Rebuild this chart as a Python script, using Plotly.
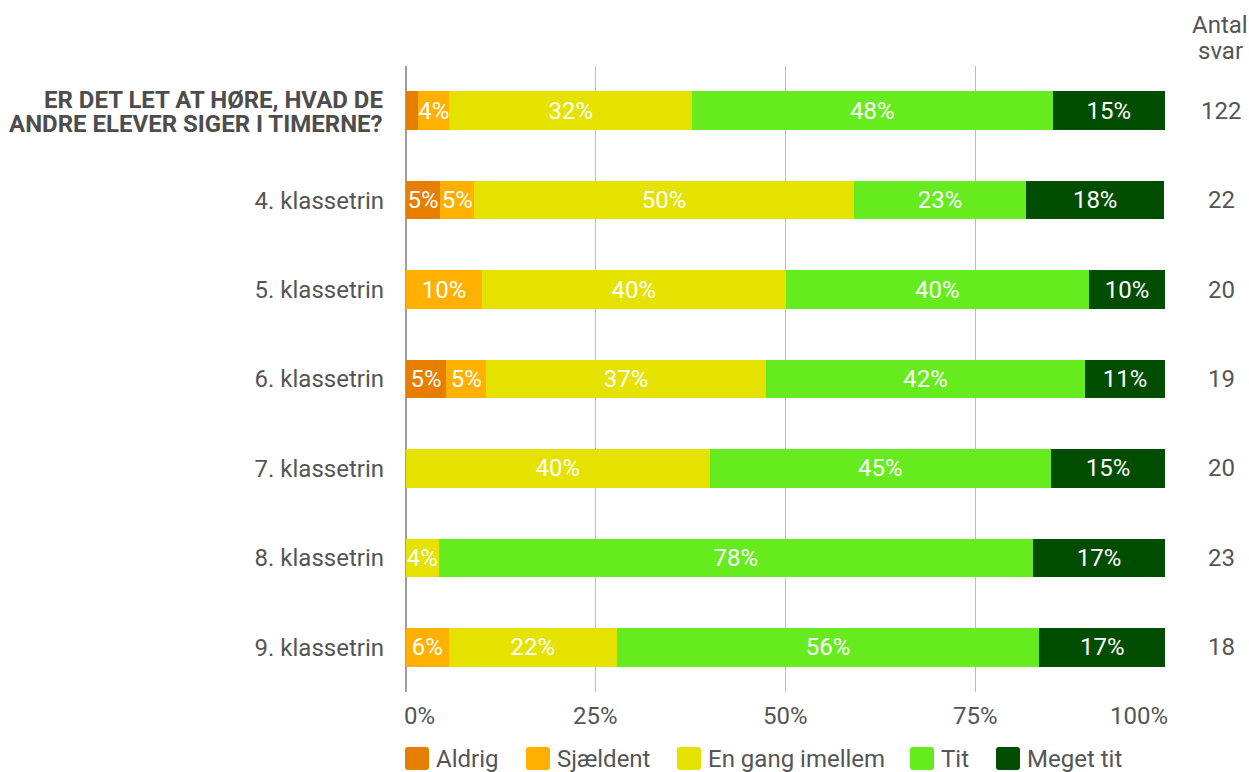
import plotly.graph_objects as go

categories = [
    "ER DET LET AT HØRE, HVAD DE ANDRE ELEVER SIGER I TIMERNE?",
    "4. klassetrin",
    "5. klassetrin",
    "6. klassetrin",
    "7. klassetrin",
    "8. klassetrin",
    "9. klassetrin",
]
header_lines = ["ER DET LET AT HØRE, HVAD DE", "ANDRE ELEVER SIGER I TIMERNE?"]
series_names = ["Aldrig", "Sjældent", "En gang imellem", "Tit", "Meget tit"]
aldrig = [1.6, 4.5, 0, 5.3, 0, 0, 0]
sjaeldent = [4.1, 4.5, 10.0, 5.3, 0, 0, 5.6]
en_gang = [32.0, 50.0, 40.0, 36.8, 40.0, 4.3, 22.2]
tit = [47.5, 22.7, 40.0, 42.1, 45.0, 78.3, 55.6]
meget_tit = [14.8, 18.2, 10.0, 10.5, 15.0, 17.4, 16.7]
antal_svar = [122, 22, 20, 19, 20, 23, 18]
tick_vals = [0, 25, 50, 75, 100]
tick_labels = ["0%", "25%", "50%", "75%", "100%"]

colors = ["#E67E00", "#FFB000", "#E6E200", "#66EB1E", "#004D00"]
series = [aldrig, sjaeldent, en_gang, tit, meget_tit]

FONT = "Roboto"
TXT = "#555555"
FS = 24

# layout geometry (pixels)
W, H = 1249, 772
ML, MT = 406, 66
PW, PH = 759, 626
MR = W - ML - PW
MB = H - MT - PH


def px_x(x):  # page x pixel -> paper coordinate
    return (x - ML) / PW


def px_y(y):  # page y pixel -> paper coordinate
    return ((MT + PH) - y) / PH


fig = go.Figure()
for name, vals, col in zip(series_names, series, colors):
    texts = [f"{int(v + 0.5)}%" if v >= 3 else "" for v in vals]
    fig.add_trace(go.Bar(
        y=categories, x=vals, name=name, orientation="h",
        marker=dict(color=col, line=dict(width=0)),
        text=texts, textposition="inside", insidetextanchor="middle",
        textangle=0, constraintext="none",
        textfont=dict(color="white", size=FS, family=FONT),
        hoverinfo="skip", showlegend=False,
    ))

annotations = []
shapes = []
# x tick labels
for i, (tv, tl) in enumerate(zip(tick_vals, tick_labels)):
    if i == 0:
        anchor, xs = "left", -4
    elif i == len(tick_vals) - 1:
        anchor, xs = "right", 5
    else:
        anchor, xs = "center", 0
    annotations.append(dict(
        x=tv, y=0, xref="x", yref="paper", text=tl, showarrow=False,
        xanchor=anchor, yanchor="middle", yshift=-24, xshift=xs,
        font=dict(size=FS, color=TXT, family=FONT),
    ))
# bold first category label in two tight lines
for line, ys in zip(header_lines, [11, -13]):
    annotations.append(dict(
        x=0, y=categories[0], xref="paper", yref="y", text=f"<b>{line}</b>",
        showarrow=False, xanchor="right", yanchor="middle", xshift=-21, yshift=ys,
        font=dict(size=FS, color="#4D4D4D", family=FONT),
    ))
# Antal svar column
col_x = px_x(1221)
for cat, n in zip(categories, antal_svar):
    annotations.append(dict(
        x=col_x, y=cat, xref="paper", yref="y", text=str(n), showarrow=False,
        xanchor="center", yanchor="middle",
        font=dict(size=FS, color=TXT, family=FONT),
    ))
for word, yc in zip(["Antal", "svar"], [25, 51]):
    annotations.append(dict(
        x=px_x(1220), y=px_y(yc), xref="paper", yref="paper", text=word,
        showarrow=False, xanchor="center", yanchor="middle",
        font=dict(size=FS, color=TXT, family=FONT),
    ))

# manual legend with rounded swatches
legend_left_px = [405, 526, 677, 910, 996]
legend_cy = px_y(758.5)
rr = "M -9,-11.5 L 9,-11.5 Q 12,-11.5 12,-8.5 L 12,8.5 Q 12,11.5 9,11.5 L -9,11.5 Q -12,11.5 -12,8.5 L -12,-8.5 Q -12,-11.5 -9,-11.5 Z"
for name, col, lx in zip(series_names, colors, legend_left_px):
    shapes.append(dict(
        type="path", xref="paper", yref="paper", xsizemode="pixel", ysizemode="pixel",
        xanchor=px_x(lx + 12), yanchor=legend_cy, path=rr,
        fillcolor=col, line=dict(width=0), layer="above",
    ))
    annotations.append(dict(
        x=px_x(lx + 29), y=legend_cy, xref="paper", yref="paper", text=name,
        showarrow=False, xanchor="left", yanchor="middle",
        font=dict(size=FS, color=TXT, family=FONT),
    ))

fig.update_layout(
    barmode="stack",
    width=W, height=H, autosize=False,
    margin=dict(l=ML, r=MR, t=MT, b=MB, autoexpand=False),
    paper_bgcolor="white", plot_bgcolor="white",
    bargap=0.57,
    font=dict(family=FONT, size=FS, color=TXT),
    uniformtext=dict(minsize=FS, mode="show"),
    showlegend=False,
    annotations=annotations,
    shapes=shapes,
)
fig.update_xaxes(
    range=[0, 100], tickvals=tick_vals, showticklabels=False,
    showgrid=True, gridcolor="#BDBDBD", gridwidth=1,
    zeroline=True, zerolinecolor="#9E9E9E", zerolinewidth=2,
    showline=False, fixedrange=True, automargin=False,
)
fig.update_yaxes(
    autorange="reversed", showgrid=False, showline=False, zeroline=False,
    ticks="", ticklabelstandoff=21,
    tickvals=categories, ticktext=[""] + categories[1:],
    tickfont=dict(size=FS, color=TXT, family=FONT),
    fixedrange=True, automargin=False,
)

fig.write_html(
    "out.html",
    config={"displayModeBar": False},
    post_script="document.body.style.margin='0';document.body.style.overflow='hidden';",
)
